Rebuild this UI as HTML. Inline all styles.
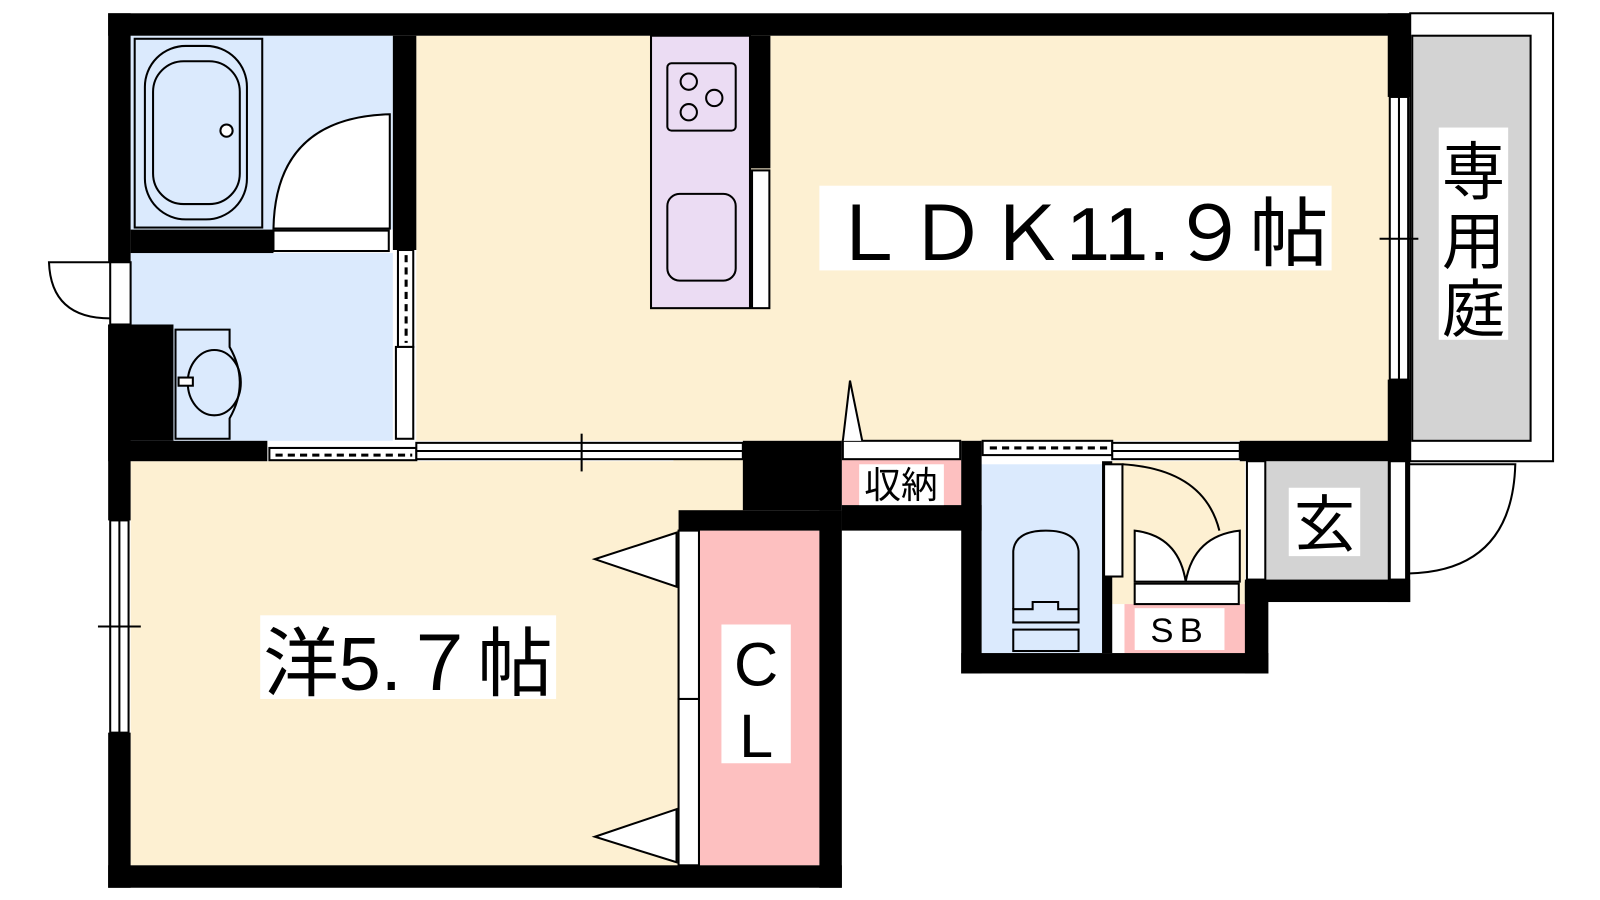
<!DOCTYPE html>
<html><head><meta charset="utf-8"><style>
html,body{margin:0;padding:0;background:#fff;width:1600px;height:900px;overflow:hidden}
text{font-family:"Liberation Sans","Noto Sans CJK JP",sans-serif}
</style></head><body>
<svg width="1600" height="900" viewBox="0 0 1600 900" xmlns="http://www.w3.org/2000/svg">
<g transform="scale(1.0204)">
<!-- fills -->
<rect x="408" y="35" width="954" height="397" fill="#fdf0d2"/>
<rect x="128" y="452" width="537" height="396" fill="#fdf0d2"/>
<rect x="660" y="450" width="70" height="52" fill="#fdf0d2"/>
<rect x="1090" y="452" width="130" height="140" fill="#fdf0d2"/>
<rect x="128" y="35" width="257" height="190" fill="#dbeafd"/>
<rect x="128" y="248" width="257" height="184" fill="#dbeafd"/>
<rect x="962" y="455" width="118" height="185" fill="#dbeafd"/>
<rect x="638" y="35" width="97" height="267" fill="#ebdcf3" stroke="#000" stroke-width="2"/>
<rect x="685" y="520" width="118" height="328" fill="#fdc0c0"/>
<rect x="825" y="450" width="117" height="45" fill="#fdc0c0"/>
<rect x="1102" y="592" width="133" height="48" fill="#fdc0c0"/>
<rect x="1240" y="452" width="120" height="118" fill="#d3d3d3"/>
<!-- garden -->
<rect x="1382" y="13" width="140" height="439" fill="#fff" stroke="#000" stroke-width="2"/>
<rect x="1384" y="35" width="116" height="397" fill="#d3d3d3" stroke="#000" stroke-width="2"/>
<!-- walls -->
<g fill="#000">
<rect x="106" y="13" width="1276" height="22"/>
<rect x="106" y="13" width="22" height="244"/>
<rect x="106" y="318" width="22" height="192"/>
<rect x="106" y="718" width="22" height="152"/>
<rect x="106" y="318" width="64" height="114"/>
<rect x="106" y="848" width="719" height="22"/>
<rect x="803" y="500" width="22" height="370"/>
<rect x="665" y="500" width="160" height="20"/>
<rect x="385" y="35" width="23" height="210"/>
<rect x="128" y="225" width="140" height="23"/>
<rect x="106" y="432" width="156" height="20"/>
<rect x="728" y="432" width="97" height="68"/>
<rect x="825" y="495" width="137" height="25"/>
<rect x="942" y="432" width="20" height="228"/>
<rect x="942" y="640" width="301" height="20"/>
<rect x="1080" y="452" width="10" height="188"/>
<rect x="1220" y="570" width="23" height="90"/>
<rect x="1215" y="432" width="167" height="20"/>
<rect x="1220" y="568" width="162" height="22"/>
<rect x="1360" y="13" width="22" height="82"/>
<rect x="1360" y="372" width="22" height="218"/>
<rect x="735" y="35" width="20" height="130"/>
</g>
<g fill="#fff" stroke="#000" stroke-width="2">
<!-- bath -->
<rect x="132" y="38" width="125" height="185" fill="#dbeafd"/>
<rect x="142" y="45" width="100" height="170" rx="40" fill="none"/>
<rect x="150" y="60" width="85" height="140" rx="30" fill="none"/>
<circle cx="222" cy="128" r="6"/>
<path d="M268 224 Q270 115 382 112 L382 224 Z"/>
<rect x="268" y="226" width="113" height="20"/>
<!-- left door -->
<rect x="108" y="257" width="20" height="61"/>
<path d="M108 257 L48 257 Q50 312 108 312" fill="none"/>
<!-- washroom door -->
<rect x="390" y="245" width="15" height="95"/>
<rect x="388" y="340" width="17" height="90"/>
<path d="M172 323 L225 323 L225 340 Q245 375 225 410 L225 430 L172 430 Z" fill="#dbeafd"/>
<ellipse cx="210" cy="375" rx="26" ry="32" fill="none"/>
<rect x="175" y="370" width="14" height="8"/>
<!-- sliding doors -->
<rect x="264" y="439" width="144" height="12"/>
<rect x="408" y="434" width="320" height="16"/>
<line x1="408" y1="442" x2="728" y2="442"/>
<line x1="570" y1="425" x2="570" y2="462"/>
<rect x="826" y="432" width="115" height="18"/>
<path d="M826 432 L833 373 L845 432" />
<rect x="963" y="432" width="127" height="14"/>
<rect x="1090" y="434" width="125" height="16"/>
<line x1="1090" y1="442" x2="1215" y2="442"/>
<!-- kitchen -->
<rect x="654" y="62" width="67" height="66" rx="4" fill="none"/>
<circle cx="675" cy="80" r="8" fill="none"/><circle cx="700" cy="96" r="8" fill="none"/><circle cx="675" cy="110" r="8" fill="none"/>
<rect x="654" y="190" width="67" height="85" rx="12" fill="none"/>
<rect x="737" y="167" width="17" height="135"/>
<!-- right window -->
<rect x="1362" y="95" width="18" height="277"/>
<line x1="1371" y1="95" x2="1371" y2="372"/>
<line x1="1352" y1="234" x2="1390" y2="234"/>
<!-- entry door -->
<rect x="1362" y="452" width="16" height="116"/>
<path d="M1380 455 L1485 455 Q1482 560 1380 562" fill="none"/>
<rect x="1222" y="452" width="18" height="116"/>
<!-- SB doors -->
<rect x="1082" y="455" width="18" height="110"/>
<path d="M1100 455 Q1180 460 1195 520" fill="none"/>
<path d="M1112 520 Q1155 525 1162 570 Q1170 525 1215 520 L1215 570 L1112 570 Z"/>
<rect x="1112" y="572" width="102" height="20"/>
<!-- toilet -->
<path d="M993 597 L993 540 Q995 520 1025 520 Q1055 520 1057 540 L1057 597" fill="none"/>
<path d="M993 597 L1012 597 L1012 590 L1037 590 L1037 597 L1057 597 L1057 610 L993 610 Z" fill="none"/>
<rect x="993" y="617" width="64" height="21" fill="none"/>
<!-- left window -->
<rect x="108" y="510" width="18" height="208"/>
<line x1="117" y1="510" x2="117" y2="718"/>
<line x1="96" y1="614" x2="138" y2="614"/>
<!-- closet doors -->
<rect x="665" y="520" width="20" height="165"/>
<rect x="665" y="685" width="20" height="163"/>
<path d="M663 522 L583 548 L663 575 Z"/>
<path d="M663 793 L583 820 L663 845 Z"/>
</g>
<g stroke="#000" stroke-width="3" stroke-dasharray="7,5">
<line x1="270" y1="446" x2="404" y2="446"/>
<line x1="970" y1="439" x2="1088" y2="439"/>
<line x1="398" y1="250" x2="398" y2="336"/>
</g>
<!-- labels -->
<rect x="803" y="182" width="502" height="83" fill="#fff"/>
<text x="812" y="255" font-size="74" textLength="490" lengthAdjust="spacingAndGlyphs">ＬＤＫ11.９帖</text>
<rect x="255" y="603" width="290" height="82" fill="#fff"/>
<text x="258" y="676" font-size="74">洋5.７帖</text>
<rect x="707" y="612" width="68" height="136" fill="#fff"/>
<text x="741" y="672" font-size="60" text-anchor="middle">C</text>
<text x="741" y="742" font-size="60" text-anchor="middle">L</text>
<rect x="1410" y="125" width="68" height="208" fill="#fff"/>
<text x="1444" y="190" font-size="62" text-anchor="middle">専</text>
<text x="1444" y="258" font-size="62" text-anchor="middle">用</text>
<text x="1444" y="325" font-size="62" text-anchor="middle">庭</text>
<rect x="1263" y="478" width="70" height="67" fill="#fff"/>
<text x="1298" y="535" font-size="60" text-anchor="middle">玄</text>
<rect x="842" y="455" width="83" height="40" fill="#fff"/>
<text x="883" y="488" font-size="36" text-anchor="middle">収納</text>
<rect x="1112" y="596" width="88" height="41" fill="#fff"/>
<text x="1156" y="629" font-size="34" text-anchor="middle" letter-spacing="6">SB</text>
</g>
</svg>
</body></html>
